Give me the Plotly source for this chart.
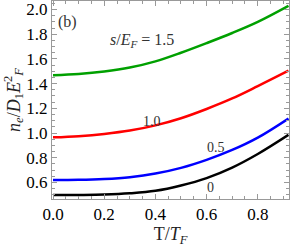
import plotly.graph_objects as go

T = [0.0, 0.1, 0.2, 0.3, 0.4, 0.5, 0.6, 0.7, 0.8, 0.92]
n_s15 = [1.468, 1.478, 1.498, 1.53, 1.58, 1.65, 1.728, 1.81, 1.90, 2.03]
n_s10 = [0.965, 0.975, 0.993, 1.02, 1.062, 1.12, 1.195, 1.28, 1.38, 1.505]
n_s05 = [0.619, 0.621, 0.628, 0.643, 0.672, 0.718, 0.783, 0.863, 0.963, 1.118]
n_s00 = [0.498, 0.499, 0.502, 0.512, 0.532, 0.575, 0.635, 0.72, 0.83, 0.985]

series = [
    (n_s15, "#00a000"),
    (n_s10, "#ff0000"),
    (n_s05, "#0000ff"),
    (n_s00, "#000000"),
]

fig = go.Figure()
for ys, col in series:
    fig.add_trace(go.Scatter(x=T, y=ys, mode="lines",
                             line=dict(color=col, width=2.5, shape="spline", smoothing=1.0),
                             showlegend=False, hoverinfo="skip"))

font = "'Liberation Serif', 'Times New Roman', serif"
ann = [
    dict(x=0.055, y=1.899, text="(b)", size=16),
    dict(x=0.346, y=1.753, text="<i>s</i>/<i>E</i><sub><i>F</i></sub> = 1.5", size=16),
    dict(x=0.385, y=1.095, text="1.0", size=14),
    dict(x=0.637, y=0.885, text="0.5", size=14),
    dict(x=0.615, y=0.563, text="0", size=14),
]
fig.update_layout(annotations=[
    dict(x=a["x"], y=a["y"], xref="x", yref="y", text=a["text"], showarrow=False,
         xanchor="center", yanchor="middle",
         font=dict(family=font, size=a["size"], color="#333"))
    for a in ann
])

axis_common = dict(
    showline=True, linecolor="#999", linewidth=1, mirror="allticks",
    ticks="inside", ticklen=5, tickcolor="#999", tickwidth=1,
    showgrid=False, zeroline=False, automargin=False, ticklabeloverflow="allow",
    tickfont=dict(family=font, size=17, color="black"),
)

fig.update_xaxes(range=[-0.004, 0.922], dtick=0.2, tick0=0, tickformat=".1f",
                 minor=dict(dtick=0.05, ticks="inside", ticklen=3, tickcolor="#999"),
                 title=dict(text="T/<i>T</i><sub><i>F</i></sub>", font=dict(family=font, size=18, color="#222"),
                            standoff=2),
                 **axis_common)
fig.update_yaxes(range=[0.466, 2.069], dtick=0.2, tick0=0, tickformat=".1f",
                 minor=dict(dtick=0.05, ticks="inside", ticklen=3, tickcolor="#999"),
                 title=dict(text="<i>n</i><sub><i>e</i></sub>/<i>D</i><sub>1</sub><i>E</i><sup>2</sup><sub><i>F</i></sub>",
                            font=dict(family=font, size=18, color="#222"), standoff=0),
                 **axis_common)

fig.update_layout(width=292, height=249, margin=dict(l=52, r=3, t=1, b=50),
                  plot_bgcolor="white", paper_bgcolor="white", font=dict(family=font))

fig.write_html("out.html", config={"displayModeBar": False},
               post_script="document.body.style.margin='0';document.body.style.padding='0';")
